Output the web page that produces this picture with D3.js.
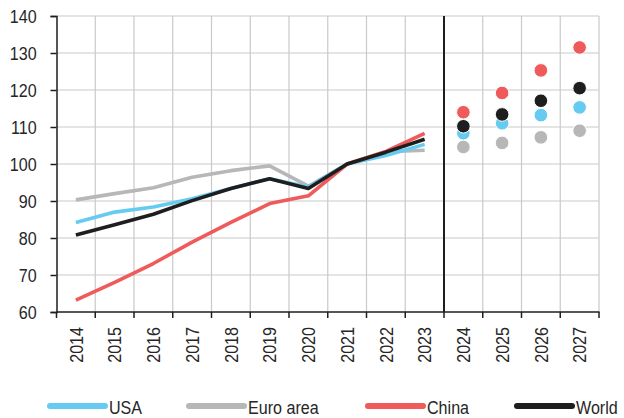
<!DOCTYPE html>
<html>
<head>
<meta charset="utf-8">
<script src="https://cdn.jsdelivr.net/npm/d3@7/dist/d3.min.js"></script>
<style>
  html, body { margin: 0; padding: 0; background: #fff; }
  svg { display: block; }
  text { font-family: "Liberation Sans", Arial, sans-serif; fill: #262626; }
</style>
</head>
<body>
<svg id="chart" width="624" height="418"></svg>
<script>
// Years on the x axis: actuals then forecasts
const years = ["2014","2015","2016","2017","2018","2019","2020","2021","2022","2023","2024","2025","2026","2027"];
const actualYears = years.slice(0, 10);
const forecastYears = years.slice(10);

// Index levels, 2021 = 100
const usaActual   = [84.2, 87.0, 88.4, 90.6, 93.4, 96.0, 93.8, 100, 102.3, 105.3];
const euroActual  = [90.3, 92.0, 93.6, 96.4, 98.2, 99.5, 94.0, 100, 103.3, 103.7];
const chinaActual = [63.2, 68.0, 73.1, 78.9, 84.2, 89.3, 91.4, 100, 103.4, 108.3];
const worldActual = [80.8, 83.6, 86.4, 90.1, 93.4, 96.0, 93.4, 100, 103.2, 106.7];

const usaForecast   = [108.3, 111.0, 113.2, 115.3];
const euroForecast  = [104.6, 105.7, 107.2, 109.0];
const chinaForecast = [114.0, 119.2, 125.3, 131.5];
const worldForecast = [110.2, 113.4, 117.1, 120.5];

const yTicks = [60, 70, 80, 90, 100, 110, 120, 130, 140];

const seriesNames = ["USA", "Euro area", "China", "World"];
const colors = { "USA": "#65cbf1", "Euro area": "#b7b7b7", "China": "#ef5b5b", "World": "#1e1e1e" };

const series = [
  { name: "Euro area", actual: euroActual, forecast: euroForecast },
  { name: "USA", actual: usaActual, forecast: usaForecast },
  { name: "China", actual: chinaActual, forecast: chinaForecast },
  { name: "World", actual: worldActual, forecast: worldForecast }
];

// Narrow-looking type: a regular face squeezed horizontally
const fontSize = "18.5px";
const squeeze = 0.87;

const svg = d3.select("#chart");
const plotLeft = 56.5, plotRight = 599, plotTop = 16, plotBottom = 312;

const x = d3.scaleBand().domain(years).range([plotLeft, plotRight]);
const y = d3.scaleLinear().domain([60, 140]).range([plotBottom, plotTop]);
const cx = d => x(d) + x.bandwidth() / 2;

// Grid
const grid = svg.append("g");
grid.selectAll("line.h").data(yTicks.filter(t => t > 60)).join("line")
  .attr("x1", plotLeft).attr("x2", plotRight)
  .attr("y1", d => y(d)).attr("y2", d => y(d))
  .attr("stroke", "#c9c9c9").attr("stroke-width", 1.2);
grid.selectAll("line.v").data(years.slice(1).concat(["end"])).join("line")
  .attr("x1", d => d === "end" ? plotRight : x(d))
  .attr("x2", d => d === "end" ? plotRight : x(d))
  .attr("y1", plotTop).attr("y2", plotBottom)
  .attr("stroke", "#c9c9c9").attr("stroke-width", 1.2);

// Divider between actuals and forecasts
svg.append("line")
  .attr("x1", x(forecastYears[0])).attr("x2", x(forecastYears[0]))
  .attr("y1", plotTop).attr("y2", plotBottom)
  .attr("stroke", "#1e1e1e").attr("stroke-width", 2);

// Y axis
const yAxis = svg.append("g").attr("transform", `translate(${plotLeft},0)`)
  .call(d3.axisLeft(y).tickValues(yTicks).tickSize(6));
yAxis.select(".domain").attr("stroke", "#1e1e1e").attr("stroke-width", 1.5);
yAxis.selectAll(".tick line").attr("stroke", "#1e1e1e").attr("stroke-width", 1.5);
yAxis.selectAll(".tick text")
  .style("font-size", fontSize).attr("fill", "#262626")
  .attr("font-family", "Liberation Sans, Arial, sans-serif")
  .attr("x", -19.8 / squeeze)
  .attr("dy", "0.36em")
  .attr("transform", `scale(${squeeze},1)`);

// X axis: ticks at band boundaries, labels rotated
const xAxisG = svg.append("g").attr("transform", `translate(0,${plotBottom})`);
xAxisG.append("line").attr("x1", plotLeft).attr("x2", plotRight + 0.5)
  .attr("stroke", "#1e1e1e").attr("stroke-width", 1.5);
xAxisG.selectAll("line.tk").data(years.concat(["end"])).join("line")
  .attr("class", "tk")
  .attr("x1", d => d === "end" ? plotRight : x(d))
  .attr("x2", d => d === "end" ? plotRight : x(d))
  .attr("y1", 0).attr("y2", 6)
  .attr("stroke", "#1e1e1e").attr("stroke-width", 1.5);
xAxisG.selectAll("text").data(years).join("text")
  .attr("transform", d => `translate(${cx(d) + 6.7},${15}) rotate(-90) scale(${squeeze},1)`)
  .attr("text-anchor", "end")
  .style("font-size", fontSize)
  .text(d => d);

// Lines for actuals
const line = d3.line().x((d, i) => cx(actualYears[i])).y(d => y(d));
svg.append("g").selectAll("path").data(series).join("path")
  .attr("d", s => line(s.actual))
  .attr("fill", "none")
  .attr("stroke", s => colors[s.name])
  .attr("stroke-width", 3.6)
  .attr("stroke-linejoin", "round");

// Dots for forecasts
const dotOrder = ["Euro area", "USA", "China", "World"];
const dotG = svg.append("g");
dotOrder.forEach(name => {
  const s = series.find(d => d.name === name);
  dotG.selectAll(null).data(s.forecast).join("circle")
    .attr("cx", (d, i) => cx(forecastYears[i]))
    .attr("cy", d => y(d))
    .attr("r", 6.8)
    .attr("fill", colors[name])
    .attr("stroke", "#fff").attr("stroke-width", 1);
});

// Legend
const legendX = [50, 189, 368, 517];
const lg = svg.append("g");
seriesNames.forEach((name, i) => {
  lg.append("line")
    .attr("x1", legendX[i]).attr("x2", legendX[i] + 55)
    .attr("y1", 406).attr("y2", 406)
    .attr("stroke", colors[name]).attr("stroke-width", 6)
    .attr("stroke-linecap", "round");
  lg.append("text")
    .attr("transform", `translate(${legendX[i] + 59},413.8) scale(${squeeze},1)`)
    .style("font-size", fontSize)
    .text(name);
});
</script>
</body>
</html>
